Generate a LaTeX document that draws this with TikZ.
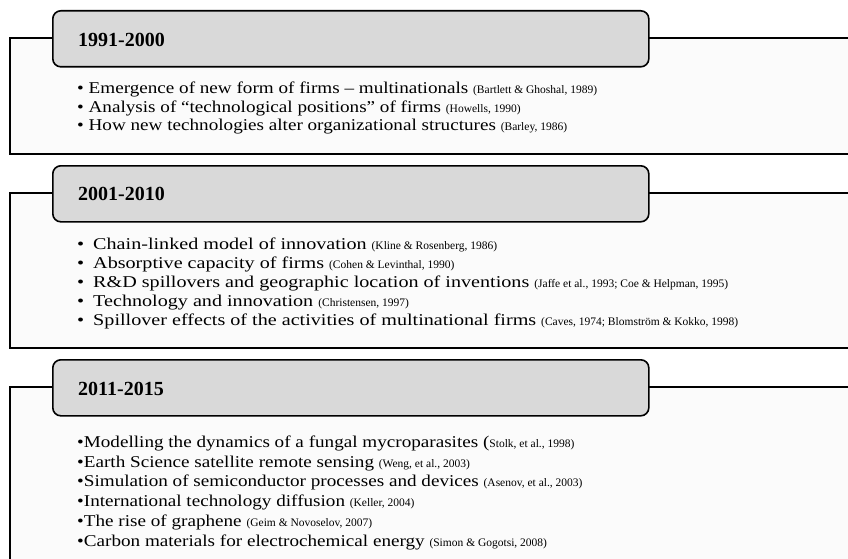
\documentclass[tikz,border=0pt]{standalone}
\usepackage{fontspec}
\setmainfont{Liberation Serif}
\newfontfamily\bodyfont[FakeStretch=1.16]{Liberation Serif}
\newfontfamily\widebodyfont[FakeStretch=1.22]{Liberation Serif}
\usetikzlibrary{positioning}
\definecolor{tabgray}{HTML}{D9D9D9}
\definecolor{framewhite}{HTML}{FBFBFB}
\newcommand{\src}[1]{{\rmfamily\fontsize{11.5}{12}\selectfont #1}}
\tikzset{
  frame/.style = {draw=black, line width=1.5pt, fill=framewhite},
  period/.style = {draw=black, line width=1.6pt, rounded corners=8pt,
                   fill=tabgray, anchor=north west, inner sep=0pt,
                   minimum width=596pt, minimum height=56pt},
  years/.style = {anchor=base west, inner sep=0pt,
                  font=\fontsize{20}{20}\selectfont\bfseries},
  item/.style = {anchor=base west, inner sep=0pt,
                 font=\bodyfont\fontsize{16.5}{18}\selectfont},
  wideitem/.style = {item, font=\widebodyfont\fontsize{16.5}{18}\selectfont}
}
\begin{document}
\begin{tikzpicture}[x=1pt, y=-1pt]
  \clip (0,0) rectangle (848,559);
  \fill[white] (0,0) rectangle (848,559);
  % 1991-2000
  \draw[frame] (10,38) rectangle (860,154);
  \node[period] (p1) at (52,10) {};
  \node[years] (y1) at (78,47) {1991-2000};
  \node[item] (a1) at (77,94) {• Emergence of new form of firms – multinationals \src{(Bartlett \& Ghoshal, 1989)}};
  \node[item] (a2) at (77,112.5) {• Analysis of “technological positions” of firms \src{(Howells, 1990)}};
  \node[item] (a3) at (77,131) {• How new technologies alter organizational structures \src{(Barley, 1986)}};
  % 2001-2010
  \draw[frame] (10,193) rectangle (860,348);
  \node[period] (p2) at (52,165) {};
  \node[years] (y2) at (78,200) {2001-2010};
  \node[wideitem] (b1) at (77,249) {•\hspace{9pt}Chain-linked model of innovation \src{(Kline \& Rosenberg, 1986)}};
  \node[wideitem] (b2) at (77,268) {•\hspace{9pt}Absorptive capacity of firms \src{(Cohen \& Levinthal, 1990)}};
  \node[wideitem] (b3) at (77,287) {•\hspace{9pt}R\&D spillovers and geographic location of inventions \src{(Jaffe et al., 1993;\ Coe \& Helpman, 1995)}};
  \node[wideitem] (b4) at (77,306) {•\hspace{9pt}Technology and innovation \src{(Christensen, 1997)}};
  \node[wideitem] (b5) at (77,325) {•\hspace{9pt}Spillover effects of the activities of multinational firms \src{(Caves, 1974;\ Blomström \& Kokko, 1998)}};
  % 2011-2015
  \draw[frame] (10,387) rectangle (860,600);
  \node[period] (p3) at (52,359) {};
  \node[years] (y3) at (78,395) {2011-2015};
  \node[item] (c1) at (77,447) {•Modelling the dynamics of a fungal mycroparasites (\src{Stolk, et al., 1998)}};
  \node[item] (c2) at (77,467) {•Earth Science satellite remote sensing \src{(Weng, et al., 2003)}};
  \node[item] (c3) at (77,486) {•Simulation of semiconductor processes and devices \src{(Asenov, et al., 2003)}};
  \node[item] (c4) at (77,506) {•International technology diffusion \src{(Keller, 2004)}};
  \node[item] (c5) at (77,526) {•The rise of graphene \src{(Geim \& Novoselov, 2007)}};
  \node[item] (c6) at (77,546) {•Carbon materials for electrochemical energy \src{(Simon \& Gogotsi, 2008)}};
\end{tikzpicture}
\end{document}
